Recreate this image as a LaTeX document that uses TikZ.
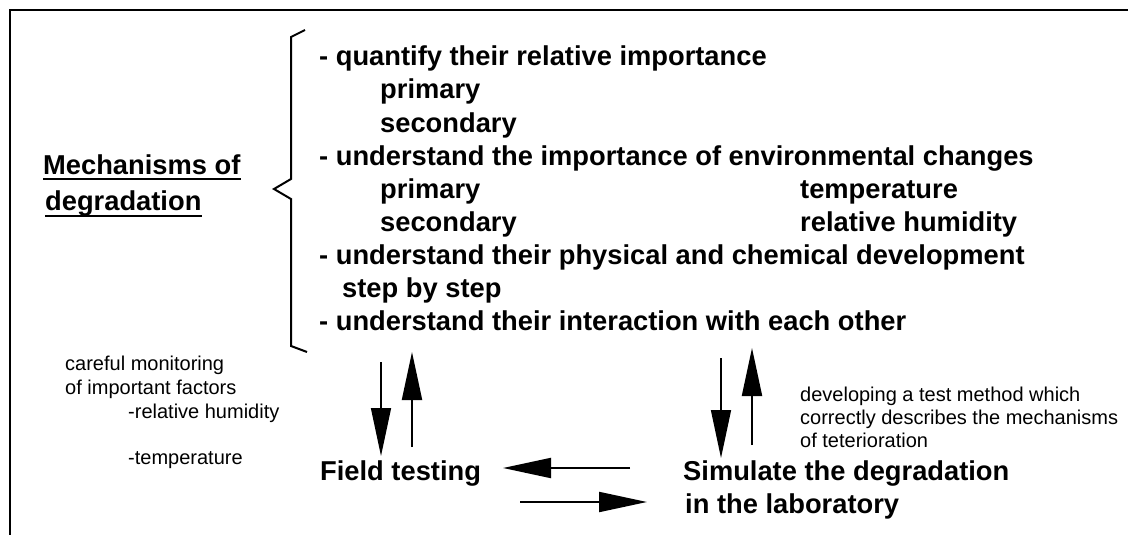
\documentclass[tikz,border=0pt]{standalone}
\usepackage{fontspec}
\setmainfont{Liberation Sans}
\usetikzlibrary{arrows.meta}
\tikzset{
  big/.style={draw, line width=2pt, -{Triangle[length=48pt,width=20pt]}},
  thinbig/.style={draw, line width=1.5pt, -{Triangle[length=48pt,width=20pt]}},
  main/.style={anchor=base west, inner sep=0pt, font=\fontsize{27.3}{33}\selectfont\bfseries},
  small/.style={anchor=base west, inner sep=0pt, font=\fontsize{20}{23}\selectfont},
  frame/.style={line width=2.6pt},
  brace/.style={line width=2pt, line join=miter}
}
\begin{document}
\begin{tikzpicture}[x=1pt,y=-1pt]
\useasboundingbox (0,0) rectangle (1128,535);
% frame (top and left)
\draw[frame] (10,535) -- (10,10) -- (1128,10);
% title
\node[main] (mech) at (43,174) {Mechanisms of};
\node[main] (degr) at (45,210) {degradation};
\draw[line width=1.6pt] ([yshift=-5pt]mech.base west) -- ([yshift=-5pt]mech.base east);
\draw[line width=1.6pt] ([yshift=-6pt]degr.base west) -- ([yshift=-6pt]degr.base east);
% brace
\draw[brace] (305,30) -- (291,37) -- (291,179) -- (274,189) -- (291,199) -- (291,346) -- (307,352);
% list
\node[main] (l0) at (319,66) {- quantify their relative importance};
\node[main] (l1) at (380,99) {primary};
\node[main] (l2) at (380,132) {secondary};
\node[main] (l3) at (319,165) {- understand the importance of environmental changes};
\node[main] (l4) at (380,198) {primary};
\node[main] (r4) at (800,198) {temperature};
\node[main] (l5) at (380,231) {secondary};
\node[main] (r5) at (800,231) {relative humidity};
\node[main] (l6) at (319,264) {- understand their physical and chemical development};
\node[main] (l7) at (342,297) {step by step};
\node[main] (l8) at (319,330) {- understand their interaction with each other};
% bottom nodes
\node[main] (field) at (320,480) {Field testing};
\node[main] (sim1) at (683,480) {Simulate the degradation};
\node[main] (sim2) at (685,513) {in the laboratory};
% notes
\node[small] (n1) at (65,370) {careful monitoring};
\node[small] (n2) at (65,394) {of important factors};
\node[small] (n3) at (128,418) {-relative humidity};
\node[small] (n4) at (128,464) {-temperature};
\node[small] (m1) at (800,401) {developing a test method which};
\node[small] (m2) at (800,424) {correctly describes the mechanisms};
\node[small] (m3) at (800,447) {of teterioration};
% arrow endpoints
\coordinate (ld0) at (381,362);
\coordinate (ld1) at (381,456);
\coordinate (lu0) at (412,447);
\coordinate (lu1) at (412,352);
\coordinate (rd0) at (721,358);
\coordinate (rd1) at (721,458);
\coordinate (ru0) at (752,445);
\coordinate (ru1) at (752,348);
\coordinate (hl0) at (630,468);
\coordinate (hl1) at (503,468);
\coordinate (hr0) at (520,502);
\coordinate (hr1) at (647,502);
\draw[thinbig] (ld0) -- (ld1);
\draw[big] (lu0) -- (lu1);
\draw[thinbig] (rd0) -- (rd1);
\draw[big] (ru0) -- (ru1);
\draw[big] (hl0) -- (hl1);
\draw[big] (hr0) -- (hr1);
\end{tikzpicture}
\end{document}
